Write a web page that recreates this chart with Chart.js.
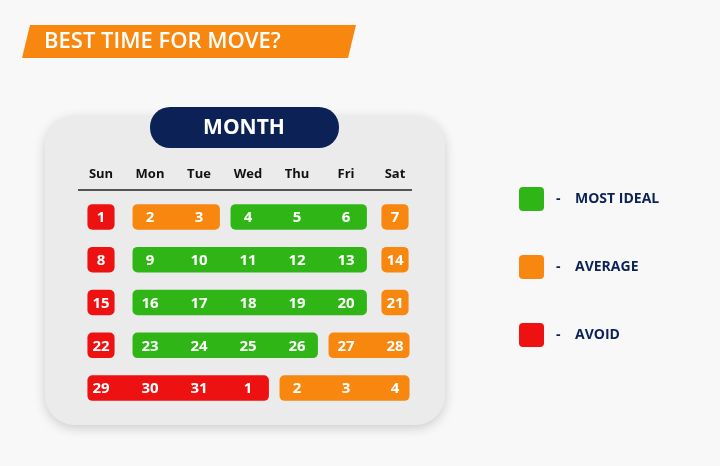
<!DOCTYPE html><html><head><meta charset="utf-8">
<script src="https://cdn.jsdelivr.net/npm/chart.js@4/dist/chart.umd.min.js"></script>
<style>html,body{margin:0;background:#f8f8f8}#w{width:720px;height:466px}</style></head><body><div id="w"><canvas id="c"></canvas></div>
<script>
const weeks=["W1","W2","W3","W4","W5"];
const dayNames=["Sun","Mon","Tue","Wed","Thu","Fri","Sat"];
const dayNumbers=[[1,2,3,4,5,6,7],[8,9,10,11,12,13,14],[15,16,17,18,19,20,21],[22,23,24,25,26,27,28],[29,30,31,1,2,3,4]];
// segments per week: [startCol,endCol,level]
const segments=[
 [[0,0,"avoid"],[1,2,"average"],[3,5,"ideal"],[6,6,"average"]],
 [[0,0,"avoid"],[1,5,"ideal"],[6,6,"average"]],
 [[0,0,"avoid"],[1,5,"ideal"],[6,6,"average"]],
 [[0,0,"avoid"],[1,4,"ideal"],[5,6,"average"]],
 [[0,3,"avoid"],[4,6,"average"]]
];
const legendLabels=[["ideal","MOST IDEAL"],["average","AVERAGE"],["avoid","AVOID"]];
const title="BEST TIME FOR MOVE?", header="MONTH";
const colors={ideal:"#2fb616",average:"#f7870f",avoid:"#ee1111"};
const navy="#0c2257";
function range(s){
 if(s[0]===s[1]) return [s[0]-0.27,s[1]+0.27];
 return [s[0]-(s[0]===0?0.27:0.35), s[1]+(s[1]===6?0.29:0.42)];}
const datasets=[0,1,2,3].map(i=>({
 data:weeks.map((w,r)=>segments[r][i]?range(segments[r][i]):null),
 backgroundColor:weeks.map((w,r)=>segments[r][i]?colors[segments[r][i][2]]:"transparent"),
 grouped:false,barThickness:25,borderRadius:5,borderSkipped:false
}));
function rr(ctx,x,y,w,h,r){ctx.beginPath();ctx.roundRect(x,y,w,h,r);}
const deco={id:"deco",
 beforeDraw(ch){const c=ch.ctx;c.save();
  c.shadowColor="rgba(0,0,0,0.18)";c.shadowBlur=12;c.shadowOffsetY=3;
  c.fillStyle="#ebebeb";rr(c,45,116,400,309,30);c.fill();
  c.shadowColor="transparent";
  c.fillStyle="#f7870f";c.beginPath();c.moveTo(30,25);c.lineTo(356,25);c.lineTo(348,58);c.lineTo(22,58);c.closePath();c.fill();
  c.fillStyle="#fff";c.font="600 22px 'Open Sans', sans-serif";c.textBaseline="middle";c.textAlign="left";
  c.fillText(title,44,42);
  c.fillStyle=navy;rr(c,150,107,189,41,20);c.fill();
  c.fillStyle="#fff";c.textAlign="center";c.font="bold 21px 'Open Sans', sans-serif";c.fillText(header,244,128);
  const xs=ch.scales.x;
  c.fillStyle="#111";c.font="bold 13px 'Open Sans', sans-serif";
  dayNames.forEach((d,i)=>c.fillText(d,xs.getPixelForValue(i),174));
  c.strokeStyle="#222";c.lineWidth=1.5;c.beginPath();c.moveTo(78,190);c.lineTo(412,190);c.stroke();
  legendLabels.forEach(([k,t],i)=>{const y=199+i*68;
   c.fillStyle=colors[k];rr(c,519,y-12,25,24,4);c.fill();
   c.fillStyle=navy;c.textAlign="left";c.font="bold 14px 'Open Sans', sans-serif";
   c.fillText("-",556,y);c.fillText(t,575,y);});
  c.restore();},
 afterDatasetsDraw(ch){const c=ch.ctx,xs=ch.scales.x,ys=ch.scales.y;c.save();
  c.fillStyle="#fff";c.font="bold 15px 'Open Sans', sans-serif";c.textAlign="center";c.textBaseline="middle";
  dayNumbers.forEach((row,r)=>row.forEach((n,i)=>c.fillText(String(n),xs.getPixelForValue(i),ys.getPixelForValue(r)+1)));
  c.restore();}
};
new Chart(document.getElementById("c"),{type:"bar",data:{labels:weeks,datasets},
 options:{indexAxis:"y",responsive:true,maintainAspectRatio:false,animation:false,
  layout:{padding:{left:76.5,right:300.5,top:195.6,bottom:56.6}},
  plugins:{legend:{display:false},tooltip:{enabled:false}},
  scales:{x:{min:-0.5,max:6.5,display:false},y:{display:false}}},
 plugins:[deco]});
</script></body></html>
